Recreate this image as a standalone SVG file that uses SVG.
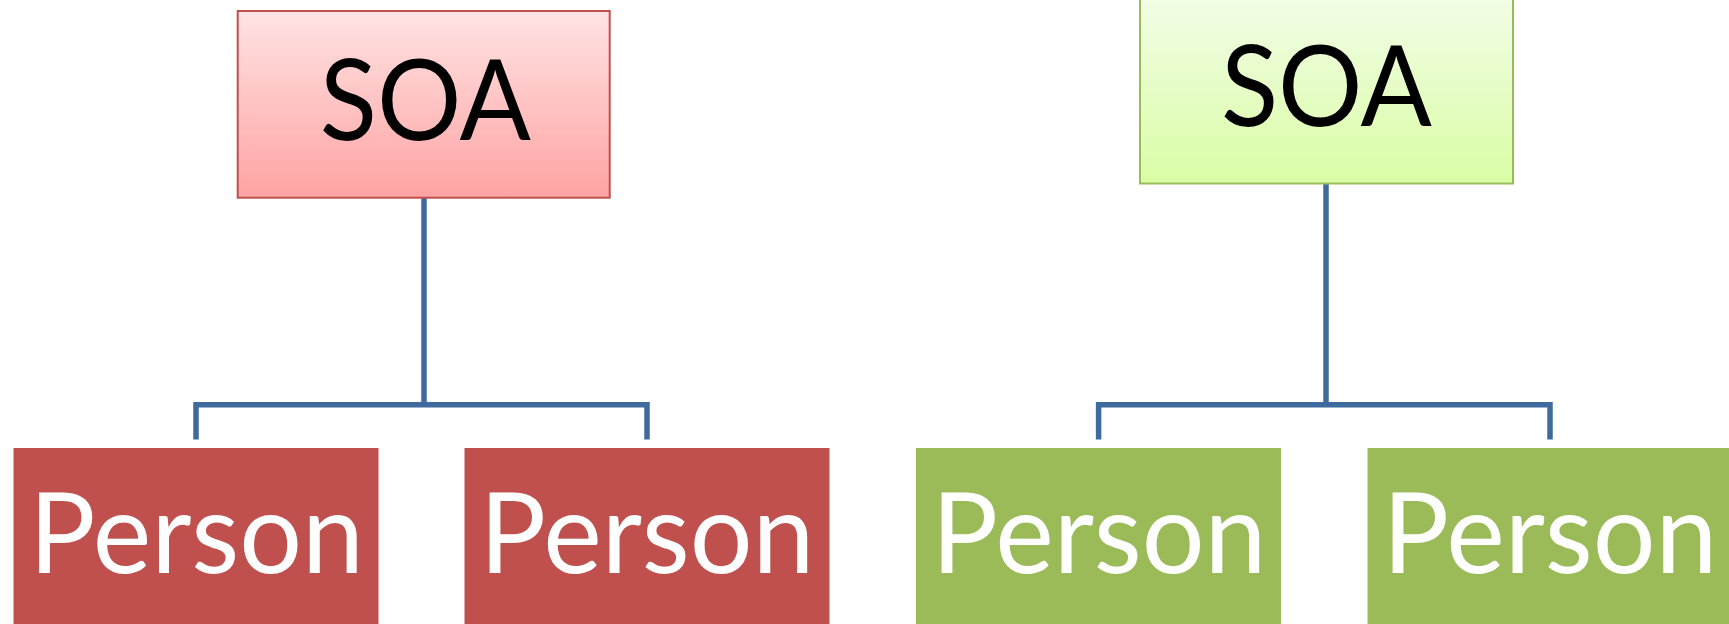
<svg xmlns="http://www.w3.org/2000/svg" width="1729" height="624" viewBox="0 0 1729 624">
  <defs>
    <linearGradient id="gRed" x1="0" y1="0" x2="0" y2="1">
      <stop offset="0" stop-color="#FFE3E3"/>
      <stop offset="1" stop-color="#FFA3A3"/>
    </linearGradient>
    <linearGradient id="gGreen" x1="0" y1="0" x2="0" y2="1">
      <stop offset="0" stop-color="#F2FDE6"/>
      <stop offset="1" stop-color="#DAFDA6"/>
    </linearGradient>
  </defs>
  <style>
    .conn { fill: none; stroke: #3F6A9D; stroke-width: 5.5; stroke-linejoin: miter; stroke-linecap: butt; }
    .lbl { font-family: Lato, "Open Sans", "Liberation Sans", sans-serif; font-size: 113px; text-anchor: middle; }
    .dark { fill: #000000; }
    .light { fill: #FFFFFF; }
  </style>
  <rect width="1729" height="624" fill="#FFFFFF"/>

  <g id="connectors">
    <polyline class="conn" points="196,439.5 196,404.8 647,404.8 647,439.5"/>
    <line class="conn" x1="424" y1="198" x2="424" y2="404.8"/>
    <polyline class="conn" points="1098.6,439.5 1098.6,404.8 1550,404.8 1550,439.5"/>
    <line class="conn" x1="1326" y1="184" x2="1326" y2="404.8"/>
  </g>

  <g id="soa-left">
    <rect x="237.7" y="11" width="372" height="186.7" fill="url(#gRed)" stroke="#C0504D" stroke-width="2"/>
    <text class="lbl dark" x="425.3" y="140" textLength="211" lengthAdjust="spacingAndGlyphs">SOA</text>
  </g>

  <g id="soa-right">
    <rect x="1140" y="-4" width="373" height="187.5" fill="url(#gGreen)" stroke="#9BBB59" stroke-width="2"/>
    <text class="lbl dark" x="1326.4" y="125.7" textLength="211" lengthAdjust="spacingAndGlyphs">SOA</text>
  </g>

  <g id="person-1">
    <rect x="13.5" y="448" width="365" height="190" fill="#C0504D"/>
    <text class="lbl light" x="196.5" y="573.3" textLength="335" lengthAdjust="spacingAndGlyphs">Person</text>
  </g>

  <g id="person-2">
    <rect x="464.5" y="448" width="365" height="190" fill="#C0504D"/>
    <text class="lbl light" x="647" y="573.3" textLength="335" lengthAdjust="spacingAndGlyphs">Person</text>
  </g>

  <g id="person-3">
    <rect x="916" y="448" width="365" height="190" fill="#9BBB59"/>
    <text class="lbl light" x="1099" y="573.3" textLength="335" lengthAdjust="spacingAndGlyphs">Person</text>
  </g>

  <g id="person-4">
    <rect x="1367.5" y="448" width="365" height="190" fill="#9BBB59"/>
    <text class="lbl light" x="1550" y="573.3" textLength="335" lengthAdjust="spacingAndGlyphs">Person</text>
  </g>
</svg>
